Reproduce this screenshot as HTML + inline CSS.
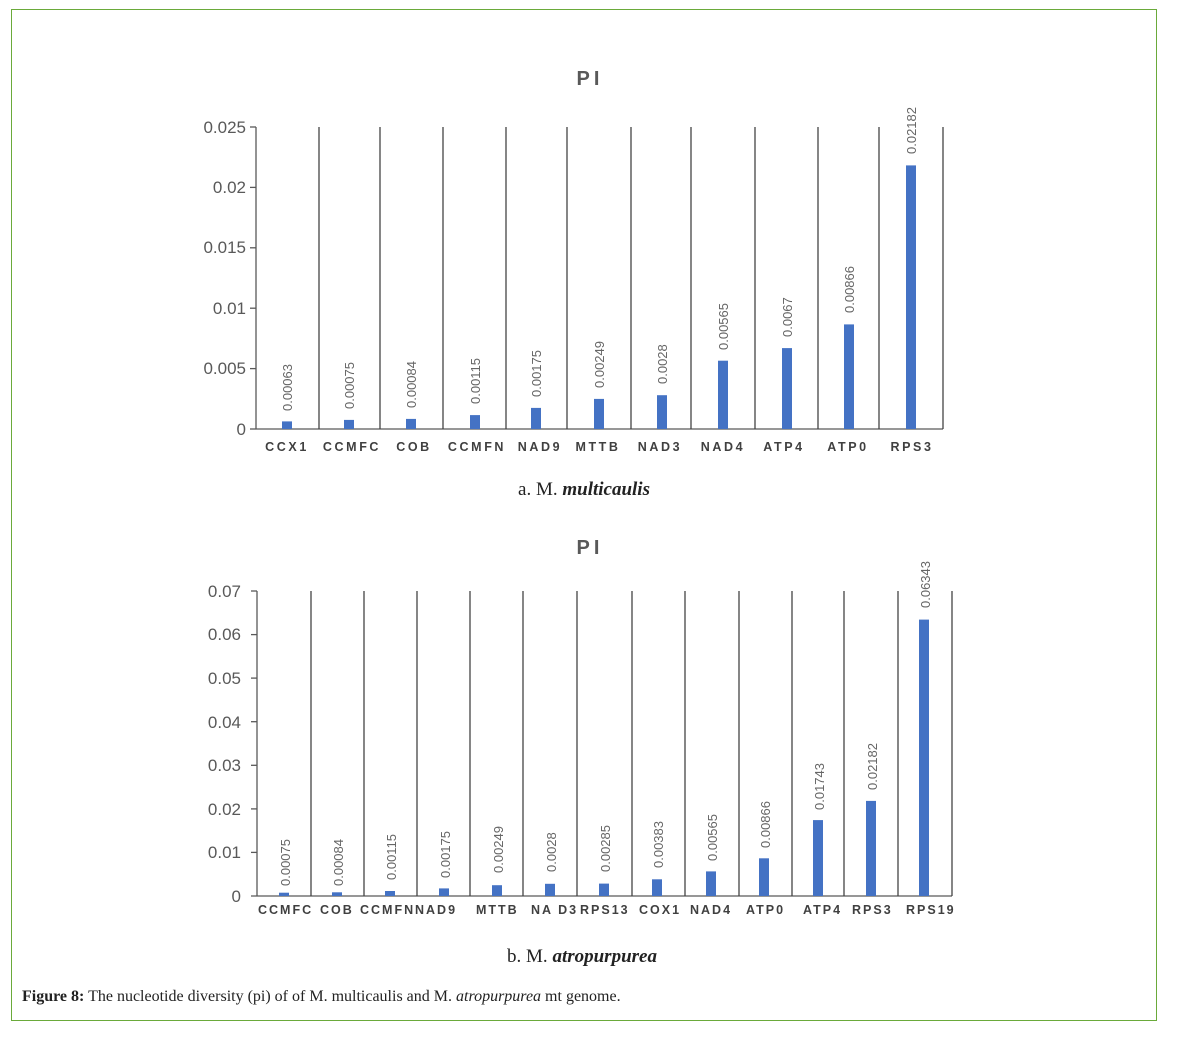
<!DOCTYPE html>
<html><head><meta charset="utf-8"><style>
html,body{margin:0;padding:0;background:#fff;}
svg{display:block}
</style></head><body>
<svg width="1187" height="1037" xmlns="http://www.w3.org/2000/svg" font-family="Liberation Sans, sans-serif">
<rect x="11.5" y="9.5" width="1145" height="1011" fill="#fff" stroke="#6aaa3a" stroke-width="1"/>

<!-- TOP CHART -->
<text x="590" y="85" text-anchor="middle" font-size="20" font-weight="bold" fill="#595959" letter-spacing="4">PI</text>
<g stroke="#595959" stroke-width="1.3">
<line x1="256" y1="127" x2="256" y2="429"/>
<line x1="256" y1="429" x2="943" y2="429"/>
<line x1="250" y1="429" x2="256" y2="429"/><line x1="250" y1="368.6" x2="256" y2="368.6"/><line x1="250" y1="308.2" x2="256" y2="308.2"/><line x1="250" y1="247.8" x2="256" y2="247.8"/><line x1="250" y1="187.4" x2="256" y2="187.4"/><line x1="250" y1="127" x2="256" y2="127"/>
</g>
<g stroke="#444" stroke-width="1.3">
<line x1="319" y1="127" x2="319" y2="429"/><line x1="380" y1="127" x2="380" y2="429"/><line x1="443" y1="127" x2="443" y2="429"/><line x1="506" y1="127" x2="506" y2="429"/><line x1="567" y1="127" x2="567" y2="429"/><line x1="631" y1="127" x2="631" y2="429"/><line x1="691" y1="127" x2="691" y2="429"/><line x1="755" y1="127" x2="755" y2="429"/><line x1="818" y1="127" x2="818" y2="429"/><line x1="879" y1="127" x2="879" y2="429"/><line x1="943" y1="127" x2="943" y2="429"/>
</g>
<g font-size="17" fill="#595959" text-anchor="end">
<text x="246" y="435">0</text><text x="246" y="374">0.005</text><text x="246" y="314">0.01</text><text x="246" y="253">0.015</text><text x="246" y="193">0.02</text><text x="246" y="133">0.025</text>
</g>
<g fill="#4472c4">
<rect x="282" y="421.4" width="10" height="7.6"/><rect x="344" y="419.9" width="10" height="9.1"/><rect x="406" y="418.9" width="10" height="10.1"/><rect x="470" y="415.1" width="10" height="13.9"/><rect x="531" y="407.9" width="10" height="21.1"/><rect x="594" y="398.9" width="10" height="30.1"/><rect x="657" y="395.2" width="10" height="33.8"/><rect x="718" y="360.7" width="10" height="68.3"/><rect x="782" y="348.1" width="10" height="80.9"/><rect x="844" y="324.4" width="10" height="104.6"/><rect x="906" y="165.4" width="10" height="263.6"/>
</g>
<g font-size="13" fill="#666">
<text transform="translate(292,411) rotate(-90)">0.00063</text>
<text transform="translate(354,409) rotate(-90)">0.00075</text>
<text transform="translate(416,408) rotate(-90)">0.00084</text>
<text transform="translate(480,404) rotate(-90)">0.00115</text>
<text transform="translate(541,397) rotate(-90)">0.00175</text>
<text transform="translate(604,388) rotate(-90)">0.00249</text>
<text transform="translate(667,384) rotate(-90)">0.0028</text>
<text transform="translate(728,350) rotate(-90)">0.00565</text>
<text transform="translate(792,337) rotate(-90)">0.0067</text>
<text transform="translate(854,313) rotate(-90)">0.00866</text>
<text transform="translate(916,154) rotate(-90)">0.02182</text>
</g>
<g font-size="12.5" fill="#404040" text-anchor="middle" letter-spacing="2.6" font-weight="bold">
<text x="287" y="451">CCX1</text><text x="352" y="451">CCMFC</text><text x="414" y="451">COB</text><text x="477" y="451">CCMFN</text><text x="540" y="451">NAD9</text><text x="598" y="451">MTTB</text><text x="660" y="451">NAD3</text><text x="723" y="451">NAD4</text><text x="784" y="451">ATP4</text><text x="848" y="451">ATP0</text><text x="912" y="451">RPS3</text>
</g>
<text x="584" y="495" text-anchor="middle" font-size="19" fill="#222" font-family="Liberation Serif, serif">a. M. <tspan font-style="italic" font-weight="bold">multicaulis</tspan></text>

<!-- BOTTOM CHART -->
<text x="590" y="554" text-anchor="middle" font-size="20" font-weight="bold" fill="#595959" letter-spacing="4">PI</text>
<g stroke="#595959" stroke-width="1.3">
<line x1="257" y1="591" x2="257" y2="896"/>
<line x1="251" y1="896" x2="952" y2="896"/>
<line x1="251" y1="852.4" x2="257" y2="852.4"/><line x1="251" y1="808.9" x2="257" y2="808.9"/><line x1="251" y1="765.3" x2="257" y2="765.3"/><line x1="251" y1="721.7" x2="257" y2="721.7"/><line x1="251" y1="678.1" x2="257" y2="678.1"/><line x1="251" y1="634.6" x2="257" y2="634.6"/><line x1="251" y1="591" x2="257" y2="591"/>
</g>
<g stroke="#444" stroke-width="1.3">
<line x1="311" y1="591" x2="311" y2="896"/><line x1="364" y1="591" x2="364" y2="896"/><line x1="417" y1="591" x2="417" y2="896"/><line x1="470" y1="591" x2="470" y2="896"/><line x1="523" y1="591" x2="523" y2="896"/><line x1="577" y1="591" x2="577" y2="896"/><line x1="632" y1="591" x2="632" y2="896"/><line x1="685" y1="591" x2="685" y2="896"/><line x1="739" y1="591" x2="739" y2="896"/><line x1="792" y1="591" x2="792" y2="896"/><line x1="844" y1="591" x2="844" y2="896"/><line x1="898" y1="591" x2="898" y2="896"/><line x1="952" y1="591" x2="952" y2="896"/>
</g>
<g font-size="17" fill="#595959" text-anchor="end">
<text x="241" y="902">0</text><text x="241" y="858">0.01</text><text x="241" y="815">0.02</text><text x="241" y="771">0.03</text><text x="241" y="728">0.04</text><text x="241" y="684">0.05</text><text x="241" y="640">0.06</text><text x="241" y="597">0.07</text>
</g>
<g fill="#4472c4">
<rect x="279" y="892.7" width="10" height="3.3"/><rect x="332" y="892.3" width="10" height="3.7"/><rect x="385" y="891" width="10" height="5"/><rect x="439" y="888.4" width="10" height="7.6"/><rect x="492" y="885.2" width="10" height="10.8"/><rect x="545" y="883.8" width="10" height="12.2"/><rect x="599" y="883.6" width="10" height="12.4"/><rect x="652" y="879.3" width="10" height="16.7"/><rect x="706" y="871.4" width="10" height="24.6"/><rect x="759" y="858.3" width="10" height="37.7"/><rect x="813" y="820.1" width="10" height="75.9"/><rect x="866" y="800.9" width="10" height="95.1"/><rect x="919" y="619.6" width="10" height="276.4"/>
</g>
<g font-size="13" fill="#666">
<text transform="translate(290,886) rotate(-90)">0.00075</text>
<text transform="translate(343,886) rotate(-90)">0.00084</text>
<text transform="translate(396,880) rotate(-90)">0.00115</text>
<text transform="translate(450,878) rotate(-90)">0.00175</text>
<text transform="translate(503,873) rotate(-90)">0.00249</text>
<text transform="translate(556,872) rotate(-90)">0.0028</text>
<text transform="translate(610,872) rotate(-90)">0.00285</text>
<text transform="translate(663,868) rotate(-90)">0.00383</text>
<text transform="translate(717,861) rotate(-90)">0.00565</text>
<text transform="translate(770,848) rotate(-90)">0.00866</text>
<text transform="translate(824,810) rotate(-90)">0.01743</text>
<text transform="translate(877,790) rotate(-90)">0.02182</text>
<text transform="translate(930,608) rotate(-90)">0.06343</text>
</g>
<g font-size="12.5" fill="#404040" font-weight="bold" letter-spacing="2">
<text x="258" y="914">CCMFC</text><text x="320" y="914">COB</text><text x="360" y="914">CCMFN</text><text x="415" y="914">NAD9</text><text x="476" y="914">MTTB</text><text x="531" y="914">NA D3</text><text x="580" y="914">RPS13</text><text x="639" y="914">COX1</text><text x="690" y="914">NAD4</text><text x="746" y="914">ATP0</text><text x="803" y="914">ATP4</text><text x="852" y="914">RPS3</text><text x="906" y="914">RPS19</text>
</g>
<text x="582" y="962" text-anchor="middle" font-size="19" fill="#222" font-family="Liberation Serif, serif">b. M. <tspan font-style="italic" font-weight="bold">atropurpurea</tspan></text>

<text x="22" y="1001" font-size="16" fill="#222" font-family="Liberation Serif, serif"><tspan font-weight="bold">Figure 8:</tspan> The nucleotide diversity (pi) of of M. multicaulis and M. <tspan font-style="italic">atropurpurea</tspan> mt genome.</text>
</svg>
</body></html>
